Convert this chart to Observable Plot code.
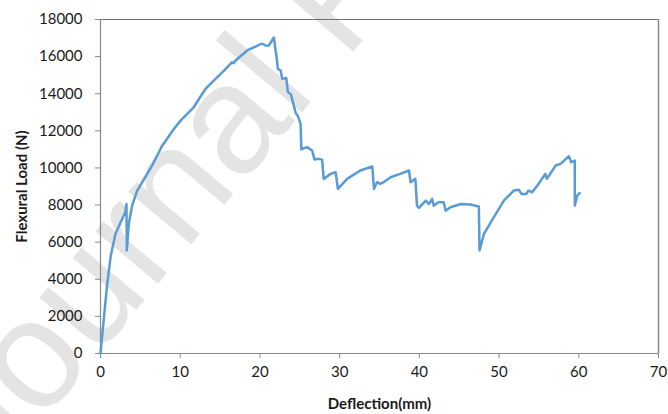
<!DOCTYPE html>
<html><head><meta charset="utf-8">
<script src="https://cdn.jsdelivr.net/npm/d3@7"></script>
<script src="https://cdn.jsdelivr.net/npm/@observablehq/plot@0.6"></script>
<style>body{margin:0;background:#fff}</style>
</head><body><div id="chart"></div>
<script>
const deflection = [0,0.4,0.84,1.3,1.88,2.5,3.1,3.26,3.3,3.55,3.97,4.6,5.4,6.5,7.74,9.2,10.04,10.45,11.7,12.55,13.17,14.2,15.5,16.5,16.7,16.94,18.4,19.5,20.1,20.4,20.7,21.1,21.75,21.96,22.1,22.25,22.6,22.8,23.3,23.5,23.9,24.5,24.75,25.1,25.2,25.9,26.55,26.85,27.4,27.8,28.0,28.86,29.5,29.78,30.94,32.6,34.1,34.3,34.7,35.1,35.5,36.4,37.6,38.7,38.9,39.5,39.7,39.95,40.8,41.2,41.6,41.8,42.4,43.05,43.3,43.9,45.2,46.4,47.46,47.55,48.1,49.35,50.6,51.85,52.5,52.8,53.4,53.7,54.15,54.8,55.8,56.0,57.1,57.7,58.76,59.05,59.5,59.5,59.8,60.1];
const load = [0,1800,3750,5300,6450,7050,7600,8060,5550,6990,7970,8780,9350,10150,11200,12100,12550,12730,13270,13850,14260,14710,15250,15700,15640,15790,16330,16550,16680,16680,16600,16590,17030,16330,15950,15340,15250,14800,14850,14100,13950,12950,12820,12370,11000,11120,10940,10450,10490,10450,9410,9680,9770,8870,9410,9860,10080,8870,9230,9140,9230,9500,9680,9860,9230,9410,7970,7850,8240,8050,8330,7970,8150,8150,7700,7880,8060,8030,7920,5550,6450,7350,8240,8780,8820,8600,8600,8780,8690,9050,9680,9410,10130,10220,10630,10310,10400,7970,8510,8640];
const xTicks = [0,10,20,30,40,50,60,70];
const yTicks = [0,2000,4000,6000,8000,10000,12000,14000,16000,18000];
const xLabel = "Deflection(mm)";
const yLabel = "Flexural Load (N)";
const watermark = "Journal Pre-proof";

const data = deflection.map((d, i) => ({x: d, y: load[i]}));
const axisGray = "#898989";

const chart = Plot.plot({
  width: 668, height: 414,
  marginLeft: 100, marginRight: 10, marginTop: 19, marginBottom: 61,
  style: {fontFamily: "Lato, 'Open Sans', sans-serif", fontSize: "15px", background: "white", color: "#1a1a1a"},
  x: {domain: [0, 70]},
  y: {domain: [0, 18000]},
  marks: [
    Plot.text([watermark], {frameAnchor: "bottom-left", dx: -110, dy: 130, rotate: -50, textAnchor: "start", lineAnchor: "bottom", fontSize: 155, fill: "#e4e4e4", fontFamily: "Liberation Sans, Arial, sans-serif"}),
    Plot.ruleY([18000], {stroke: "#707070", strokeWidth: 1.2}),
    Plot.ruleX([70], {stroke: axisGray, strokeWidth: 1.5}),
    Plot.axisX({ticks: xTicks, tickSize: 5, tickPadding: 8, stroke: axisGray, fill: "#1a1a1a", label: null, tickFormat: d => String(d)}),
    Plot.axisY({ticks: yTicks, tickSize: 5, tickPadding: 13, stroke: axisGray, fill: "#1a1a1a", label: null, tickFormat: d => String(d)}),
    Plot.ruleY([0], {stroke: axisGray, strokeWidth: 1.2}),
    Plot.ruleX([0], {stroke: axisGray, strokeWidth: 1.2}),
    Plot.line(data, {x: "x", y: "y", stroke: "#5B9BD5", strokeWidth: 2.5, strokeLinejoin: "round"}),
    Plot.text([xLabel], {frameAnchor: "bottom", dy: 51, textAnchor: "middle", lineAnchor: "middle", fontWeight: "bold", fontSize: 15, fill: "#1a1a1a"}),
    Plot.text([yLabel], {frameAnchor: "left", dx: -78, rotate: -90, textAnchor: "middle", lineAnchor: "middle", fontWeight: "bold", fontSize: 15, fill: "#1a1a1a"})
  ]
});
document.getElementById("chart").appendChild(chart);
</script>
</body></html>
